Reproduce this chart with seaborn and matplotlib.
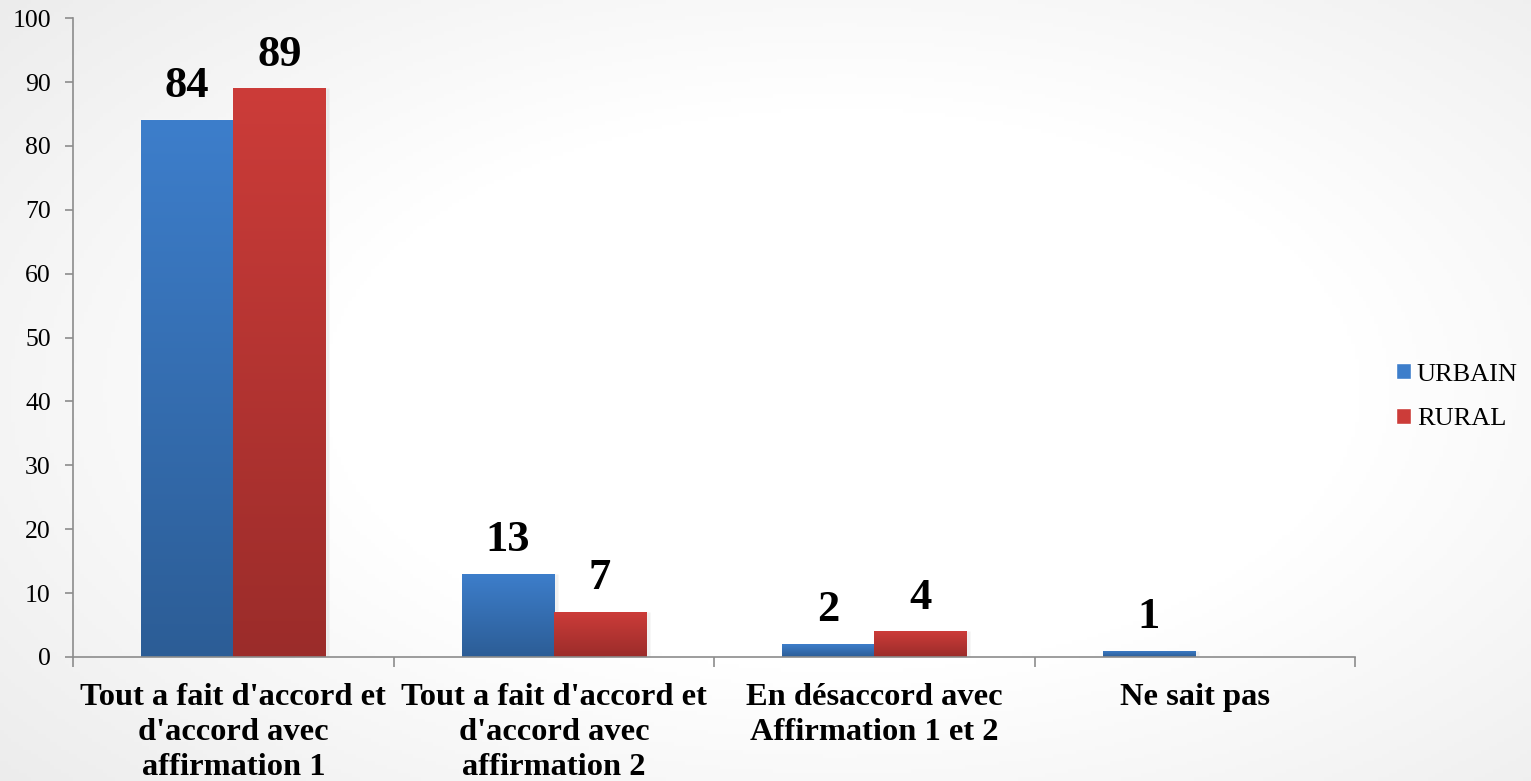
import numpy as np
import pandas as pd
import matplotlib
matplotlib.use("Agg")
import matplotlib.pyplot as plt
from matplotlib.colors import LinearSegmentedColormap
import seaborn as sns

# values
categories = [
    "Tout a fait d'accord et\nd'accord avec\naffirmation 1",
    "Tout a fait d'accord et\nd'accord avec\naffirmation 2",
    "En désaccord avec\nAffirmation 1 et 2",
    "Ne sait pas",
]
series = ["URBAIN", "RURAL"]
urbain = [84, 13, 2, 1]
rural = [89, 7, 4, 0]

df = pd.DataFrame({
    "cat": categories * 2,
    "zone": ["URBAIN"] * 4 + ["RURAL"] * 4,
    "val": urbain + rural,
})

top_colors = {"URBAIN": "#3d7ecb", "RURAL": "#cc3c39"}
bottom_colors = {"URBAIN": "#2c5d96", "RURAL": "#9b2c2a"}

sns.set_style("white")
plt.rcParams["font.family"] = ["Liberation Serif", "DejaVu Serif"]
plt.rcParams["text.color"] = "black"
plt.rcParams["xtick.labelcolor"] = "black"
plt.rcParams["ytick.labelcolor"] = "black"

fig = plt.figure(figsize=(15.31, 7.81), dpi=100)

# soft grey background, white in the middle
bg = fig.add_axes([0, 0, 1, 1], zorder=-10)
yy, xx = np.mgrid[0:1:200j, 0:1:400j]
r = np.sqrt(((xx - 0.55) / 0.75) ** 2 + ((yy - 0.5) / 0.8) ** 2)
bg.imshow(np.clip(r, 0, 1), cmap=LinearSegmentedColormap.from_list("bg", ["#ffffff", "#ebebeb"]),
          extent=[0, 1, 0, 1], aspect="auto", vmin=0.45, vmax=1.0)
bg.axis("off")

ax = fig.add_axes([0.0477, 0.1588, 0.8374, 0.818])
ax.set_facecolor("none")

sns.barplot(data=df, x="cat", y="val", hue="zone", hue_order=series,
            palette=top_colors, width=0.575, gap=0, ax=ax, legend=True,
            saturation=1, errorbar=None)

# vertical gradient on each bar
for cont, name in zip(ax.containers, series):
    cmap = LinearSegmentedColormap.from_list(name, [bottom_colors[name], top_colors[name]])
    for p in cont.patches:
        h = p.get_height()
        if h <= 0:
            p.set_visible(False)
            continue
        x0, w = p.get_x(), p.get_width()
        # small shadow on the right
        ax.bar(x0 + w / 2 + 0.012, h, width=w, bottom=0, color="#000000", alpha=0.06, zorder=1)
        im = ax.imshow(np.linspace(0, 1, 256).reshape(-1, 1), cmap=cmap, origin="lower",
                       extent=[x0, x0 + w, 0, h], aspect="auto", zorder=2)
        im.set_clip_path(p)
        p.set_zorder(2)
    labels = [str(v) if v > 0 else "" for v in (urbain if name == "URBAIN" else rural)]
    ax.bar_label(cont, labels=labels, padding=10, fontsize=32, fontweight="bold", color="black")

ax.set_xlim(-0.5, 3.5)
ax.set_ylim(0, 100)

ax.set_xlabel("")
ax.set_ylabel("")
ax.set_yticks(range(0, 101, 10))
ax.tick_params(axis="y", labelsize=18.5, length=6, width=1.2, color="#8c8c8c", left=True, pad=10)

ax.set_xticks(range(4))
ax.set_xticklabels(categories, fontsize=23.4, fontweight="bold", linespacing=1.27)
ax.tick_params(axis="x", length=0, pad=19)
ax.set_xticks([-0.5, 0.5, 1.5, 2.5, 3.5], minor=True)
ax.tick_params(axis="x", which="minor", length=7.5, width=1.2, color="#8c8c8c", bottom=True)

sns.despine(ax=ax)
for s in ["left", "bottom"]:
    ax.spines[s].set_color("#8c8c8c")
    ax.spines[s].set_linewidth(1.2)

leg = ax.legend(handles=ax.get_legend().legend_handles, labels=series,
                loc="center left", bbox_to_anchor=(0.903, 0.492),
                bbox_transform=fig.transFigure, frameon=False, fontsize=19,
                borderpad=0, handlelength=0.57, handleheight=0.57,
                handletextpad=0.23, labelspacing=0.85)

fig.savefig("out.png", dpi=100)
